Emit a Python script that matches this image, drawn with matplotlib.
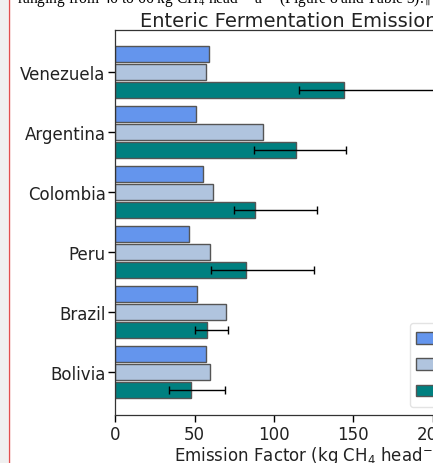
import numpy as np
import matplotlib
matplotlib.use("Agg")
import matplotlib.pyplot as plt
from matplotlib.patches import Rectangle
from matplotlib.lines import Line2D

countries = ["Venezuela", "Argentina", "Colombia", "Peru", "Brazil", "Bolivia"]
series_labels = ["IPCC Tier 1", "IPCC Tier 2", "This study"]
tier1 = [59.2, 51.0, 55.3, 46.4, 51.5, 57.0]
tier2 = [57.0, 92.9, 61.8, 59.9, 70.0, 59.9]
study = [144.3, 114.1, 88.2, 82.4, 57.6, 47.5]
study_low = [115.8, 87.6, 74.8, 60.5, 50.2, 33.8]
study_high = [250.0, 145.2, 126.9, 125.0, 70.8, 68.9]
colors = ["#6495ED", "#B0C4DE", "#008080"]
xticks = [0, 50, 100, 150, 200, 250]

W, H = 433, 464
fig = plt.figure(figsize=(W / 100, H / 100), dpi=100)
fig.patch.set_facecolor("white")

# page margin and border line
fig.patches.append(Rectangle((0, 0), 8 / W, 1, transform=fig.transFigure,
                             facecolor="#f0f0f0", edgecolor="none", zorder=0))
fig.lines.append(Line2D([8.5 / W, 8.5 / W], [0, 1], transform=fig.transFigure,
                        color="#e05050", lw=1.0, zorder=1))

fig.text(17 / W, (H - 4.5) / H,
         r"ranging from 46 to 66 kg CH$_4$ head$^{-1}$ a$^{-1}$ (Figure 8 and Table 3).¶",
         family="Liberation Serif", math_fontfamily="stix", fontsize=11.2,
         va="baseline", ha="left", color="black")

left_px, bottom_px, height_px = 115.3, 48.0, 385.3
ax = fig.add_axes([left_px / W, bottom_px / H, 500 / W, height_px / H])

n = len(countries)
y = np.arange(n)[::-1].astype(float)
slot = 0.3
bh = 0.27
ec = "#555555"
ax.barh(y + slot, tier1, height=bh, color=colors[0], edgecolor=ec, linewidth=1.0,
        label=series_labels[0])
ax.barh(y, tier2, height=bh, color=colors[1], edgecolor=ec, linewidth=1.0,
        label=series_labels[1])
xerr = np.array([np.array(study) - np.array(study_low),
                 np.array(study_high) - np.array(study)])
ax.barh(y - slot, study, height=bh, color=colors[2], edgecolor=ec, linewidth=1.0,
        label=series_labels[2], xerr=xerr,
        error_kw=dict(ecolor="black", elinewidth=1.0, capsize=3, capthick=1.0))

ax.set_yticks(y)
ax.set_yticklabels(countries, fontsize=12, color="#222222")
ax.set_xticks(xticks)
ax.set_xticklabels([str(t) for t in xticks], fontsize=12, color="#222222")
ax.set_xlim(0, 320)
ax.set_ylim(-0.71, n - 1 + 0.71)
ax.tick_params(length=5, width=1.0, pad=2)
for s in ax.spines.values():
    s.set_color("#333333")
    s.set_linewidth(0.9)

ax.set_title("Enteric Fermentation Emission Factors", fontsize=14, pad=2, color="#222222")
ax.set_xlabel(r"Emission Factor (kg CH$_4$ head$^{-1}$ a$^{-1}$)", fontsize=12,
              color="#222222", labelpad=0)

leg = ax.legend(loc="lower left", bbox_to_anchor=(409.5 / W, 56 / H),
                bbox_transform=fig.transFigure, borderaxespad=0, fontsize=12,
                frameon=True, fancybox=True, edgecolor="#dddddd")

# size the axes so that the title starts where it should
fig.canvas.draw()
r = fig.canvas.get_renderer()
tw = ax.title.get_window_extent(r).width
width_px = 2 * (140 + tw / 2 - left_px)
ax.set_position([left_px / W, bottom_px / H, width_px / W, height_px / H])
ax.set_xlim(0, width_px / 1.587)

fig.savefig("out.png", dpi=100)
